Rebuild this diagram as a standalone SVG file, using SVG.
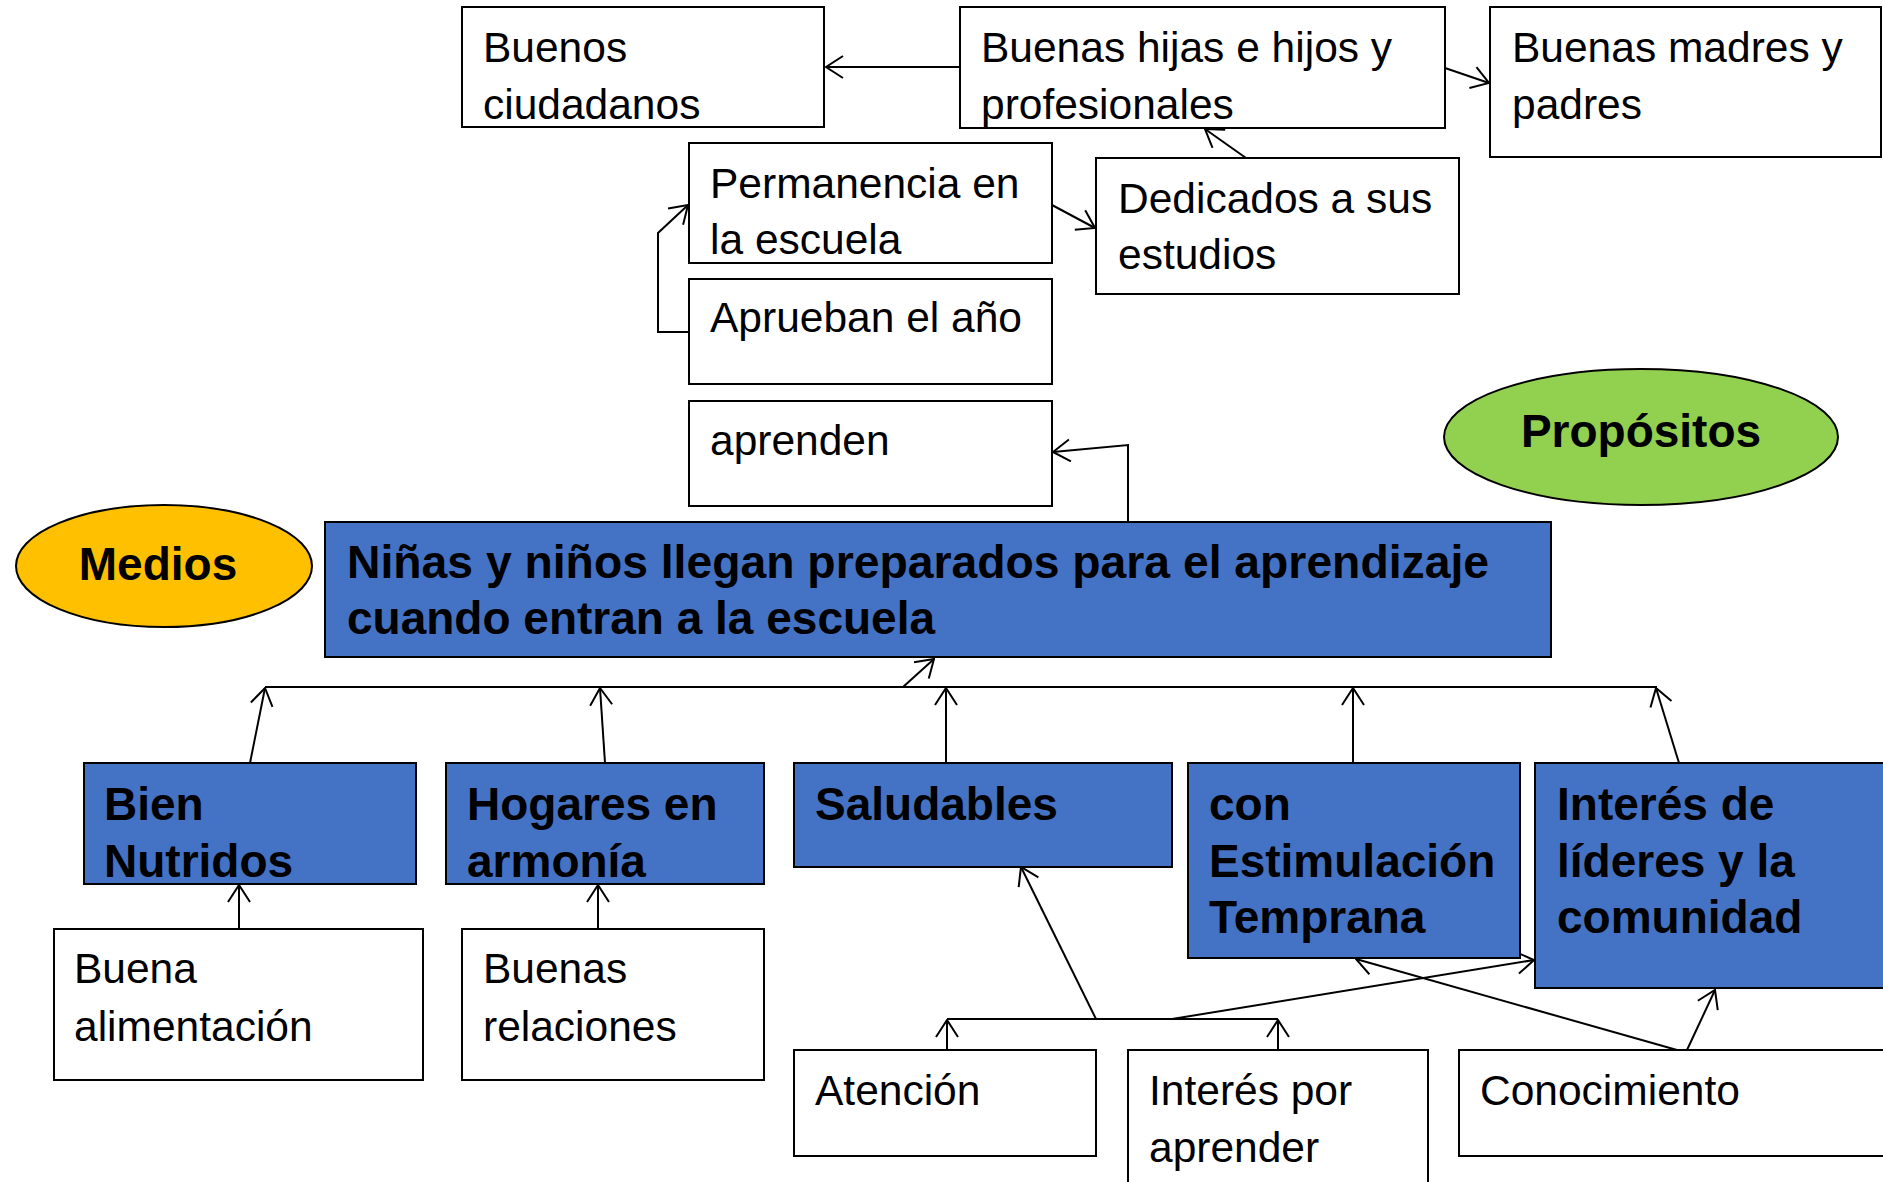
<svg xmlns="http://www.w3.org/2000/svg" width="1883" height="1182" viewBox="0 0 1883 1182">
<style>
.w{fill:#fff;stroke:#000;stroke-width:2}
.b{fill:#4472C4;stroke:#000;stroke-width:2}
.t{font-family:"Liberation Sans",Arial,sans-serif;font-size:42.5px;fill:#000}
.bt{font-family:"Liberation Sans",Arial,sans-serif;font-size:46px;font-weight:bold;fill:#000}
.c{fill:none;stroke:#000;stroke-width:2}
</style>
<defs>
<marker id="ah" viewBox="0 0 20 24" refX="19" refY="12" markerWidth="20" markerHeight="24" markerUnits="userSpaceOnUse" orient="auto">
<path d="M2,1 L19,12 L2,23" fill="none" stroke="#000" stroke-width="2"/>
</marker>
</defs>
<g id="connectors">
<line class="c" x1="960" y1="67" x2="826" y2="67" marker-end="url(#ah)"/>
<line class="c" x1="1445" y1="68" x2="1489" y2="83" marker-end="url(#ah)"/>
<line class="c" x1="1246" y1="158" x2="1205" y2="129" marker-end="url(#ah)"/>
<line class="c" x1="1052" y1="205" x2="1095" y2="228" marker-end="url(#ah)"/>
<polyline class="c" points="689,332 658,332 658,233 688,205" marker-end="url(#ah)"/>
<polyline class="c" points="1128,522 1128,445 1053,452" marker-end="url(#ah)"/>
<line class="c" x1="265" y1="687" x2="1657" y2="687"/>
<line class="c" x1="903" y1="687" x2="934" y2="659" marker-end="url(#ah)"/>
<line class="c" x1="250" y1="763" x2="265" y2="688" marker-end="url(#ah)"/>
<line class="c" x1="605" y1="763" x2="600" y2="688" marker-end="url(#ah)"/>
<line class="c" x1="946" y1="763" x2="946" y2="688" marker-end="url(#ah)"/>
<line class="c" x1="1353" y1="763" x2="1353" y2="688" marker-end="url(#ah)"/>
<line class="c" x1="1679" y1="763" x2="1656" y2="688" marker-end="url(#ah)"/>
<line class="c" x1="239" y1="929" x2="239" y2="885" marker-end="url(#ah)"/>
<line class="c" x1="598" y1="929" x2="598" y2="885" marker-end="url(#ah)"/>
<line class="c" x1="947" y1="1019" x2="1278" y2="1019"/>
<line class="c" x1="947" y1="1050" x2="947" y2="1020" marker-end="url(#ah)"/>
<line class="c" x1="1278" y1="1050" x2="1278" y2="1020" marker-end="url(#ah)"/>
<line class="c" x1="1096" y1="1019" x2="1021" y2="867" marker-end="url(#ah)"/>
<line class="c" x1="1172" y1="1019" x2="1534" y2="960" marker-end="url(#ah)"/>
<line class="c" x1="1677" y1="1050" x2="1356" y2="959" marker-end="url(#ah)"/>
<line class="c" x1="1687" y1="1050" x2="1715" y2="990" marker-end="url(#ah)"/>
</g>
<g id="buenos-ciudadanos"><rect class="w" x="462" y="7" width="362" height="120"/><text class="t" x="483" y="62">Buenos</text><text class="t" x="483" y="119">ciudadanos</text></g>
<g id="buenas-hijas"><rect class="w" x="960" y="7" width="485" height="121"/><text class="t" x="981" y="62">Buenas hijas e hijos y</text><text class="t" x="981" y="119">profesionales</text></g>
<g id="buenas-madres"><rect class="w" x="1490" y="7" width="391" height="150"/><text class="t" x="1512" y="62">Buenas madres y</text><text class="t" x="1512" y="119">padres</text></g>
<g id="permanencia"><rect class="w" x="689" y="143" width="363" height="120"/><text class="t" x="710" y="198">Permanencia en</text><text class="t" x="710" y="254">la escuela</text></g>
<g id="dedicados"><rect class="w" x="1096" y="158" width="363" height="136"/><text class="t" x="1118" y="213">Dedicados a sus</text><text class="t" x="1118" y="269">estudios</text></g>
<g id="aprueban"><rect class="w" x="689" y="279" width="363" height="105"/><text class="t" x="710" y="332">Aprueban el año</text></g>
<g id="aprenden"><rect class="w" x="689" y="401" width="363" height="105"/><text class="t" x="710" y="455">aprenden</text></g>
<g id="propositos"><ellipse cx="1641" cy="437" rx="197" ry="68" fill="#92D050" stroke="#000" stroke-width="2"/><text class="bt" x="1641" y="447" text-anchor="middle">Propósitos</text></g>
<g id="medios"><ellipse cx="164" cy="566" rx="148" ry="61" fill="#FFC000" stroke="#000" stroke-width="2"/><text class="bt" x="158" y="580" text-anchor="middle">Medios</text></g>
<g id="ninas-ninos"><rect class="b" x="325" y="522" width="1226" height="135"/><text class="bt" x="347" y="578" textLength="1142" lengthAdjust="spacingAndGlyphs">Niñas y niños llegan preparados para el aprendizaje</text><text class="bt" x="347" y="634">cuando entran a la escuela</text></g>
<g id="bien-nutridos"><rect class="b" x="84" y="763" width="332" height="121"/><text class="bt" x="104" y="820">Bien</text><text class="bt" x="104" y="877">Nutridos</text></g>
<g id="hogares"><rect class="b" x="446" y="763" width="318" height="121"/><text class="bt" x="467" y="820">Hogares en</text><text class="bt" x="467" y="877">armonía</text></g>
<g id="saludables"><rect class="b" x="794" y="763" width="378" height="104"/><text class="bt" x="815" y="820">Saludables</text></g>
<g id="estimulacion"><rect class="b" x="1188" y="763" width="332" height="195"/><text class="bt" x="1209" y="820">con</text><text class="bt" x="1209" y="877">Estimulación</text><text class="bt" x="1209" y="933">Temprana</text></g>
<g id="interes-lideres"><rect class="b" x="1535" y="763" width="360" height="225"/><text class="bt" x="1557" y="820">Interés de</text><text class="bt" x="1557" y="877">líderes y la</text><text class="bt" x="1557" y="933">comunidad</text></g>
<g id="buena-alimentacion"><rect class="w" x="54" y="929" width="369" height="151"/><text class="t" x="74" y="983">Buena</text><text class="t" x="74" y="1041">alimentación</text></g>
<g id="buenas-relaciones"><rect class="w" x="462" y="929" width="302" height="151"/><text class="t" x="483" y="983">Buenas</text><text class="t" x="483" y="1041">relaciones</text></g>
<g id="atencion"><rect class="w" x="794" y="1050" width="302" height="106"/><text class="t" x="815" y="1105">Atención</text></g>
<g id="interes-aprender"><rect class="w" x="1128" y="1050" width="300" height="150"/><text class="t" x="1149" y="1105">Interés por</text><text class="t" x="1149" y="1162">aprender</text></g>
<g id="conocimiento"><rect class="w" x="1459" y="1050" width="440" height="106"/><text class="t" x="1480" y="1105">Conocimiento</text></g>
</svg>
